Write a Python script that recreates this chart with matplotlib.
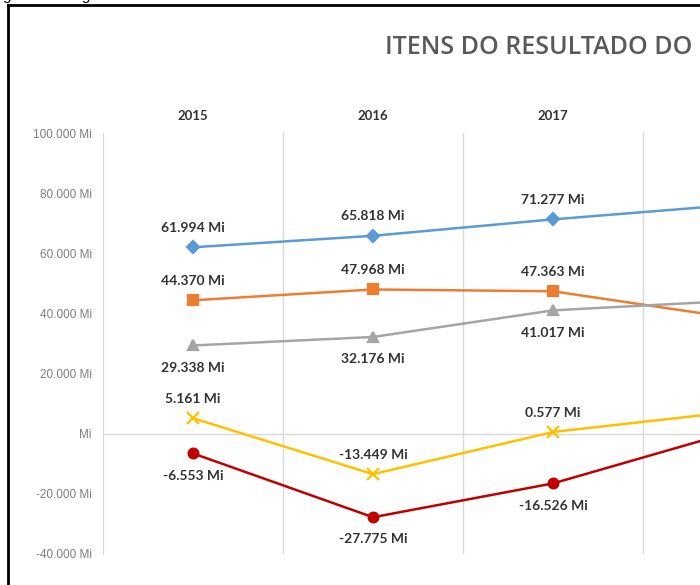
import matplotlib
matplotlib.use("Agg")
import matplotlib.pyplot as plt
from matplotlib.lines import Line2D

# dados (valores em mil)
anos = ["2015", "2016", "2017", "2018"]
serie_azul = [61994, 65818, 71277, 76100]
serie_laranja = [44370, 47968, 47363, 38500]
serie_cinza = [29338, 32176, 41017, 44200]
serie_amarela = [5161, -13449, 577, 7300]
serie_vermelha = [-6553, -27775, -16526, 700]

yticks = [-40000, -20000, 0, 20000, 40000, 60000, 80000, 100000]


def fmt_mi(v):
    if v == 0:
        return "Mi"
    return f"{v / 1000:.3f} Mi"


W, H = 700, 585
fig = plt.figure(figsize=(7, 5.85), dpi=100)

# eixo: categoria -0.5 em x=103px, largura 180px por categoria
ax = fig.add_axes([103 / W, 31 / H, 720 / W, 421 / H])
ax.set_xlim(-0.5, 3.5)
ax.set_ylim(-40000, 100000)

x = list(range(len(anos)))
series = [
    (serie_azul, "#5B9BD5", "D", 6, "above"),
    (serie_laranja, "#ED7D31", "s", 7, "above"),
    (serie_cinza, "#A5A5A5", "^", 7, "below"),
    (serie_amarela, "#FFC000", "x", 8, "above"),
    (serie_vermelha, "#C00000", "o", 7, "below"),
]

for vals, cor, mk, ms, pos in series:
    ax.plot(x, vals, color=cor, lw=1.8, marker=mk, ms=ms, mew=1.6,
            mec=cor, mfc=cor, zorder=3, clip_on=False)
    # rótulos só nos anos visíveis (2018 fica fora do recorte)
    for xi, v in zip(x[:3], vals[:3]):
        dy = 14 if pos == "above" else -16
        ax.annotate(fmt_mi(v), (xi, v), xytext=(0, dy), textcoords="offset points",
                    ha="center", va="center", fontsize=10, fontweight="bold",
                    color="#333333", family="Lato", zorder=4)

ax.axhline(0, color="#D9D9D9", lw=1, zorder=1)
for b in [0.5, 1.5, 2.5]:
    ax.axvline(b, color="#D9D9D9", lw=1, zorder=1)

for s in ["top", "right", "bottom"]:
    ax.spines[s].set_visible(False)
ax.spines["left"].set_color("#D9D9D9")

ax.set_yticks(yticks)
ax.set_yticklabels([fmt_mi(v) for v in yticks], fontsize=8.5, color="#7F7F7F",
                   family="Liberation Sans")
ax.tick_params(axis="y", length=0, pad=8)

ax.xaxis.tick_top()
ax.set_xticks(x)
ax.set_xticklabels(anos, fontsize=9.5, fontweight="bold", color="#333333", family="Lato")
# 2018 fica fora do recorte
ax.get_xticklabels()[-1].set_visible(False)
ax.tick_params(axis="x", length=0, pad=8)

# título (cortado na imagem original)
fig.text(385 / W, 1 - 47 / H, "ITENS DO RESULTADO DO", ha="left", va="center",
         fontsize=18, fontweight="semibold", color="#595959", family="Open Sans")

# moldura preta
fig.add_artist(Line2D([8 / W, 8 / W], [-0.1, 1 - 5 / H], color="black", lw=2,
                      transform=fig.transFigure))
fig.add_artist(Line2D([8 / W, 1.1], [1 - 5 / H, 1 - 5 / H], color="black", lw=2,
                      transform=fig.transFigure))

# texto da página acima do gráfico
fig.text(3 / W, 1.0, "gráfico a seguir:", ha="left", va="baseline",
         fontsize=11, color="black", family="Liberation Sans")

fig.savefig("out.png", dpi=100)
